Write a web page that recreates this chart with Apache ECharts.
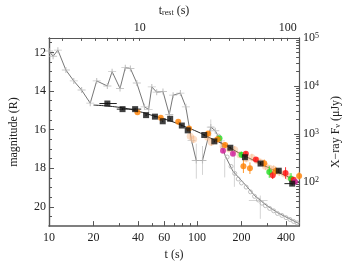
<!DOCTYPE html>
<html><head><meta charset="utf-8">
<script src="https://cdn.jsdelivr.net/npm/echarts@6/dist/echarts.min.js"></script>
<style>html,body{margin:0;padding:0;background:#fff}#c{width:350px;height:266px}</style>
</head><body><div id="c"></div>
<script>
// ---- axis ticks ----
const xMajor = [10, 20, 40, 60, 100, 200, 400];
const xMinor = [30, 50, 70, 80, 90, 300];
const restMajor = [10, 100];
const restTicks = [3, 4, 5, 6, 7, 8, 9, 10, 20, 30, 40, 50, 60, 70, 80, 90, 100];
const magMajor = [12, 14, 16, 18, 20];
const magMinor = [11.5, 12.5, 13, 13.5, 14.5, 15, 15.5, 16.5, 17, 17.5, 18.5, 19, 19.5, 20.5];
const fluxMajor = [100, 1000, 10000, 100000];
const fluxMinor = [20,30,40,50,60,70,80,90,200,300,400,500,600,700,800,900,2000,3000,4000,5000,6000,7000,8000,9000,20000,30000,40000,50000,60000,70000,80000,90000];
const restFactor = 4.1;

// ---- X-ray light curve (gray, right axis, uJy) ----
const xrT = [10, 10.66, 11.48, 13.0, 14.7, 16.6, 19.0, 21.0, 24.8, 26.7, 30.2, 32.8, 35.5, 39.2, 44.2, 47.1, 49.5, 53.4, 58.9, 65.0, 69.0, 77.3, 84.1, 91.9, 98.9, 109, 124, 133, 145, 155, 175, 213, 246, 293, 350, 420, 490];
const xrF = [53200, 41400, 55600, 21400, 12700, 8200, 4370, 12700, 9950, 19800, 8840, 24000, 23000, 11500, 3660, 3240, 9530, 7410, 7640, 2540, 6410, 7090, 3660, 725, 279, 279, 1387, 1161, 715, 353, 167, 86, 51.4, 33, 22.9, 17.2, 13.5];
const xrCrossCount = 29;
// late X-ray points (small circles)
const xdT = [140, 150, 160, 170, 180, 190, 200, 215, 230, 245, 260, 275, 290, 310, 330, 350, 375, 400, 425, 450, 475];
const xdF = [900, 520, 330, 210, 150, 115, 95, 78, 62, 50, 42, 36, 32, 28, 25, 22, 20, 18, 16.5, 15, 14];
// large X-ray error bars [t, F, tlo, thi, Flo, Fhi]
const xrErrT = [99, 109, 124, 154, 179, 268];
const xrErrF = [279, 279, 1387, 200, 170, 41];
const xrErrTlo = [92, 105, 118, 154, 179, 224];
const xrErrThi = [105, 115, 130, 154, 179, 300];
const xrErrFlo = [117, 140, 900, 124, 79, 17];
const xrErrFhi = [627, 560, 2000, 300, 402, 52];

// ---- optical model (black line, magnitude) ----
const modT = [20, 30, 40, 50, 60, 70, 80, 100, 120, 150, 200, 250, 300, 350, 400, 490];
const modM = [14.73, 14.85, 15.05, 15.27, 15.45, 15.62, 15.8, 16.1, 16.4, 16.75, 17.28, 17.65, 17.95, 18.2, 18.4, 18.72];

// ---- optical data (R mag) ----
const blackT = [24.8, 31.4, 38.2, 45.3, 52.0, 58.7, 65.9, 79, 86.6, 112, 131, 168, 211, 269, 357, 440];
const blackM = [14.65, 14.94, 14.94, 15.25, 15.33, 15.57, 15.44, 15.79, 16.04, 16.28, 16.61, 16.94, 17.43, 17.76, 18.13, 18.8];
const blackTlo = [21.9, 28.7, 34.5, 45.3, 52.0, 58.7, 65.9, 79, 86.6, 112, 131, 168, 211, 269, 357, 390];
const blackThi = [28.7, 34.5, 42.0, 45.3, 52.0, 58.7, 65.9, 79, 86.6, 112, 131, 168, 211, 269, 357, 470];
const blackErr = [0.05, 0.05, 0.05, 0.05, 0.05, 0.05, 0.05, 0.05, 0.05, 0.05, 0.05, 0.05, 0.08, 0.08, 0.1, 0.1];

const orangeT = [39.6, 56.9, 74.7, 88.4, 119, 138, 155, 206, 228, 285, 340, 490];
const orangeM = [15.1, 15.39, 15.6, 15.95, 16.2, 16.5, 16.8, 17.9, 18.0, 17.75, 18.15, 18.4];
const orangeErr = [0.05, 0.05, 0.05, 0.1, 0.1, 0.15, 0.15, 0.35, 0.3, 0.2, 0.2, 0.2];

const paleT = [90, 95, 118, 125, 135, 150, 165, 180, 195, 215, 235, 255, 270, 290, 310, 330, 360, 390, 420];
const paleM = [16.35, 16.5, 16.4, 16.65, 16.55, 16.85, 17.0, 17.05, 17.3, 17.5, 17.45, 17.6, 17.7, 17.9, 18.0, 18.05, 18.2, 18.3, 18.45];
const paleErr = [0.2, 0.2, 0.15, 0.2, 0.15, 0.2, 0.15, 0.2, 0.15, 0.2, 0.2, 0.15, 0.2, 0.2, 0.15, 0.2, 0.2, 0.15, 0.2];

const greenT = [142, 200, 308, 432];
const greenM = [16.45, 17.3, 18.2, 18.55];
const greenErr = [0.1, 0.15, 0.3, 0.3];

const redT = [214, 250, 325, 397, 450];
const redM = [17.25, 17.55, 18.36, 18.25, 18.6];
const redErr = [0.1, 0.1, 0.2, 0.3, 0.15];

const magT = [150, 175, 460];
const magM = [17.1, 17.25, 18.7];
const magErr = [0.1, 0.1, 0.1];

// ---- build ----
const FONT = 'Liberation Serif';
const TXT = '#222';
const pairs = (a, b) => a.map((v, i) => [v, b[i]]);
const errRows = (t, m, e, tlo, thi) => t.map((v, i) => [v, m[i], tlo ? tlo[i] : v, thi ? thi[i] : v, m[i] - e[i], m[i] + e[i]]);

function errSeries(rows, color, yIdx, width, z) {
  return {
    type: 'custom', xAxisIndex: 0, yAxisIndex: yIdx, data: rows, silent: true, z: z || 2,
    renderItem: function (params, api) {
      const x = api.value(0), y = api.value(1);
      const p1 = api.coord([api.value(2), y]), p2 = api.coord([api.value(3), y]);
      const q1 = api.coord([x, api.value(4)]), q2 = api.coord([x, api.value(5)]);
      const st = { stroke: color, lineWidth: width || 1 };
      return { type: 'group', children: [
        { type: 'line', shape: { x1: p1[0], y1: p1[1], x2: p2[0], y2: p2[1] }, style: st },
        { type: 'line', shape: { x1: q1[0], y1: q1[1], x2: q2[0], y2: q2[1] }, style: st }
      ] };
    }
  };
}

const tickStyle = { color: '#555', width: 1 };
const lineStyleAx = { color: '#555', width: 1.2 };
const labelBase = { color: TXT, fontFamily: FONT, fontSize: 12 };
const nameBase = { color: TXT, fontFamily: FONT, fontSize: 12 };

const xMinV = 10, xMaxV = 490;
const magMin = 11.25, magMax = 21;
const fMin = 12, fMax = 100000;

const chart = echarts.init(document.getElementById('c'), null, { renderer: 'canvas' });
chart.setOption({
  animation: false,
  backgroundColor: '#fff',
  grid: { left: 44, right: 44, top: 25, bottom: 36 },
  xAxis: [
    { type: 'log', position: 'bottom', min: xMinV, max: xMaxV,
      axisLine: { show: true, onZero: false, lineStyle: { color: '#555', width: 1.6 } },
      axisTick: { show: true, inside: true, length: 5, customValues: xMajor, lineStyle: tickStyle },
      axisLabel: Object.assign({ show: true, customValues: xMajor, margin: 6, formatter: v => String(Math.round(v)) }, labelBase),
      splitLine: { show: false },
      name: 't (s)', nameLocation: 'middle', nameGap: 22, nameTextStyle: nameBase },
    { type: 'log', position: 'bottom', min: xMinV, max: xMaxV,
      axisLine: { show: false, onZero: false },
      axisTick: { show: true, inside: true, length: 3, customValues: xMinor, lineStyle: tickStyle },
      axisLabel: { show: false }, splitLine: { show: false } },
    { type: 'log', position: 'top', min: xMinV / restFactor, max: xMaxV / restFactor,
      axisLine: { show: true, onZero: false, lineStyle: lineStyleAx },
      axisTick: { show: true, inside: true, length: 3, customValues: restTicks, lineStyle: tickStyle },
      axisLabel: Object.assign({ show: true, customValues: restMajor, margin: 4, formatter: v => String(Math.round(v)) }, labelBase),
      splitLine: { show: false },
      name: '{t|t}{s|rest}{t| (s)}', nameLocation: 'middle', nameGap: 18,
      nameTextStyle: Object.assign({ rich: {
        t: { fontFamily: FONT, fontSize: 12, color: TXT },
        s: { fontFamily: FONT, fontSize: 8, color: TXT, verticalAlign: 'bottom' } } }, nameBase) }
  ],
  yAxis: [
    { type: 'value', position: 'left', inverse: true, min: magMin, max: magMax,
      axisLine: { show: true, onZero: false, lineStyle: { color: '#555', width: 1.4 } },
      axisTick: { show: true, inside: true, length: 5, customValues: magMajor, lineStyle: tickStyle },
      axisLabel: Object.assign({ show: true, customValues: magMajor, margin: 3 }, labelBase),
      splitLine: { show: false },
      name: 'magnitude (R)', nameLocation: 'middle', nameGap: 29, nameRotate: 90, nameTextStyle: nameBase },
    { type: 'value', position: 'left', inverse: true, min: magMin, max: magMax,
      axisLine: { show: false, onZero: false },
      axisTick: { show: true, inside: true, length: 3, customValues: magMinor, lineStyle: tickStyle },
      axisLabel: { show: false }, splitLine: { show: false } },
    { type: 'log', position: 'right', min: fMin, max: fMax,
      axisLine: { show: true, onZero: false, lineStyle: lineStyleAx },
      axisTick: { show: true, inside: true, length: 5, customValues: fluxMajor, lineStyle: tickStyle },
      axisLabel: { show: true, customValues: fluxMajor, margin: 4,
        formatter: v => '{a|10}{b|' + Math.round(Math.log10(v)) + '}',
        rich: { a: { fontFamily: FONT, fontSize: 12, color: TXT },
                b: { fontFamily: FONT, fontSize: 8, color: TXT, verticalAlign: 'top' } } },
      splitLine: { show: false },
      name: 'X\u2212ray F{s|\u03bd} (\u03bcJy)', nameLocation: 'middle', nameGap: 27, nameRotate: 90,
      nameTextStyle: Object.assign({ rich: { s: { fontFamily: FONT, fontSize: 8, color: TXT, verticalAlign: 'bottom' } } }, nameBase) },
    { type: 'log', position: 'right', min: fMin, max: fMax,
      axisLine: { show: false, onZero: false },
      axisTick: { show: true, inside: true, length: 3, customValues: fluxMinor, lineStyle: tickStyle },
      axisLabel: { show: false }, splitLine: { show: false } }
  ],
  series: [
    errSeries(xrErrT.map((t, i) => [t, xrErrF[i], xrErrTlo[i], xrErrThi[i], xrErrFlo[i], xrErrFhi[i]]), '#d4d4d4', 2, 1, 1),
    { type: 'line', xAxisIndex: 0, yAxisIndex: 2, data: pairs(xrT, xrF), showSymbol: false,
      lineStyle: { color: '#777', width: 1 }, z: 2, silent: true },
    { type: 'scatter', xAxisIndex: 0, yAxisIndex: 2, data: pairs(xrT.slice(0, xrCrossCount), xrF.slice(0, xrCrossCount)),
      symbol: 'path://M0,3L8,3M4,0L4,6', symbolSize: [8, 6],
      itemStyle: { color: 'rgba(0,0,0,0)', borderColor: '#b8b8b8', borderWidth: 1 }, z: 2, silent: true },
    { type: 'scatter', xAxisIndex: 0, yAxisIndex: 2, data: pairs(xdT, xdF), symbol: 'circle', symbolSize: 4,
      itemStyle: { color: 'rgba(0,0,0,0)', borderColor: '#b0b0b0', borderWidth: 1 }, z: 2, silent: true },
    { type: 'line', xAxisIndex: 0, yAxisIndex: 0, data: pairs(modT, modM), showSymbol: false, smooth: true,
      lineStyle: { color: '#222', width: 1 }, z: 3, silent: true },
    errSeries(errRows(paleT, paleM, paleErr), 'rgba(245,175,120,0.6)', 0, 1, 3),
    { type: 'scatter', xAxisIndex: 0, yAxisIndex: 0, data: pairs(paleT, paleM), symbol: 'circle', symbolSize: 7,
      itemStyle: { color: 'rgba(245,180,130,0.55)' }, z: 3, silent: true },
    errSeries(errRows(orangeT, orangeM, orangeErr), '#ff9a30', 0, 1, 4),
    errSeries(errRows(greenT, greenM, greenErr), '#33ee33', 0, 1, 4),
    errSeries(errRows(redT, redM, redErr), '#ff3030', 0, 1, 4),
    errSeries(errRows(magT, magM, magErr), '#e040b0', 0, 1, 4),
    errSeries(errRows(blackT, blackM, blackErr, blackTlo, blackThi), '#222', 0, 1, 4),
    { type: 'scatter', xAxisIndex: 0, yAxisIndex: 0, data: pairs(greenT, greenM), symbol: 'circle', symbolSize: 6,
      itemStyle: { color: '#22dd22' }, z: 5, silent: true },
    { type: 'scatter', xAxisIndex: 0, yAxisIndex: 0, data: pairs(redT, redM), symbol: 'circle', symbolSize: 6,
      itemStyle: { color: '#ff1010' }, z: 5, silent: true },
    { type: 'scatter', xAxisIndex: 0, yAxisIndex: 0, data: pairs(magT, magM), symbol: 'circle', symbolSize: 6,
      itemStyle: { color: '#d0209a' }, z: 5, silent: true },
    { type: 'scatter', xAxisIndex: 0, yAxisIndex: 0, data: pairs(orangeT, orangeM), symbol: 'circle', symbolSize: 6,
      itemStyle: { color: '#ff8000' }, z: 5, silent: true },
    { type: 'scatter', xAxisIndex: 0, yAxisIndex: 0, data: pairs(blackT, blackM), symbol: 'rect', symbolSize: 6,
      itemStyle: { color: '#111' }, z: 6, silent: true }
  ]
});
</script></body></html>
